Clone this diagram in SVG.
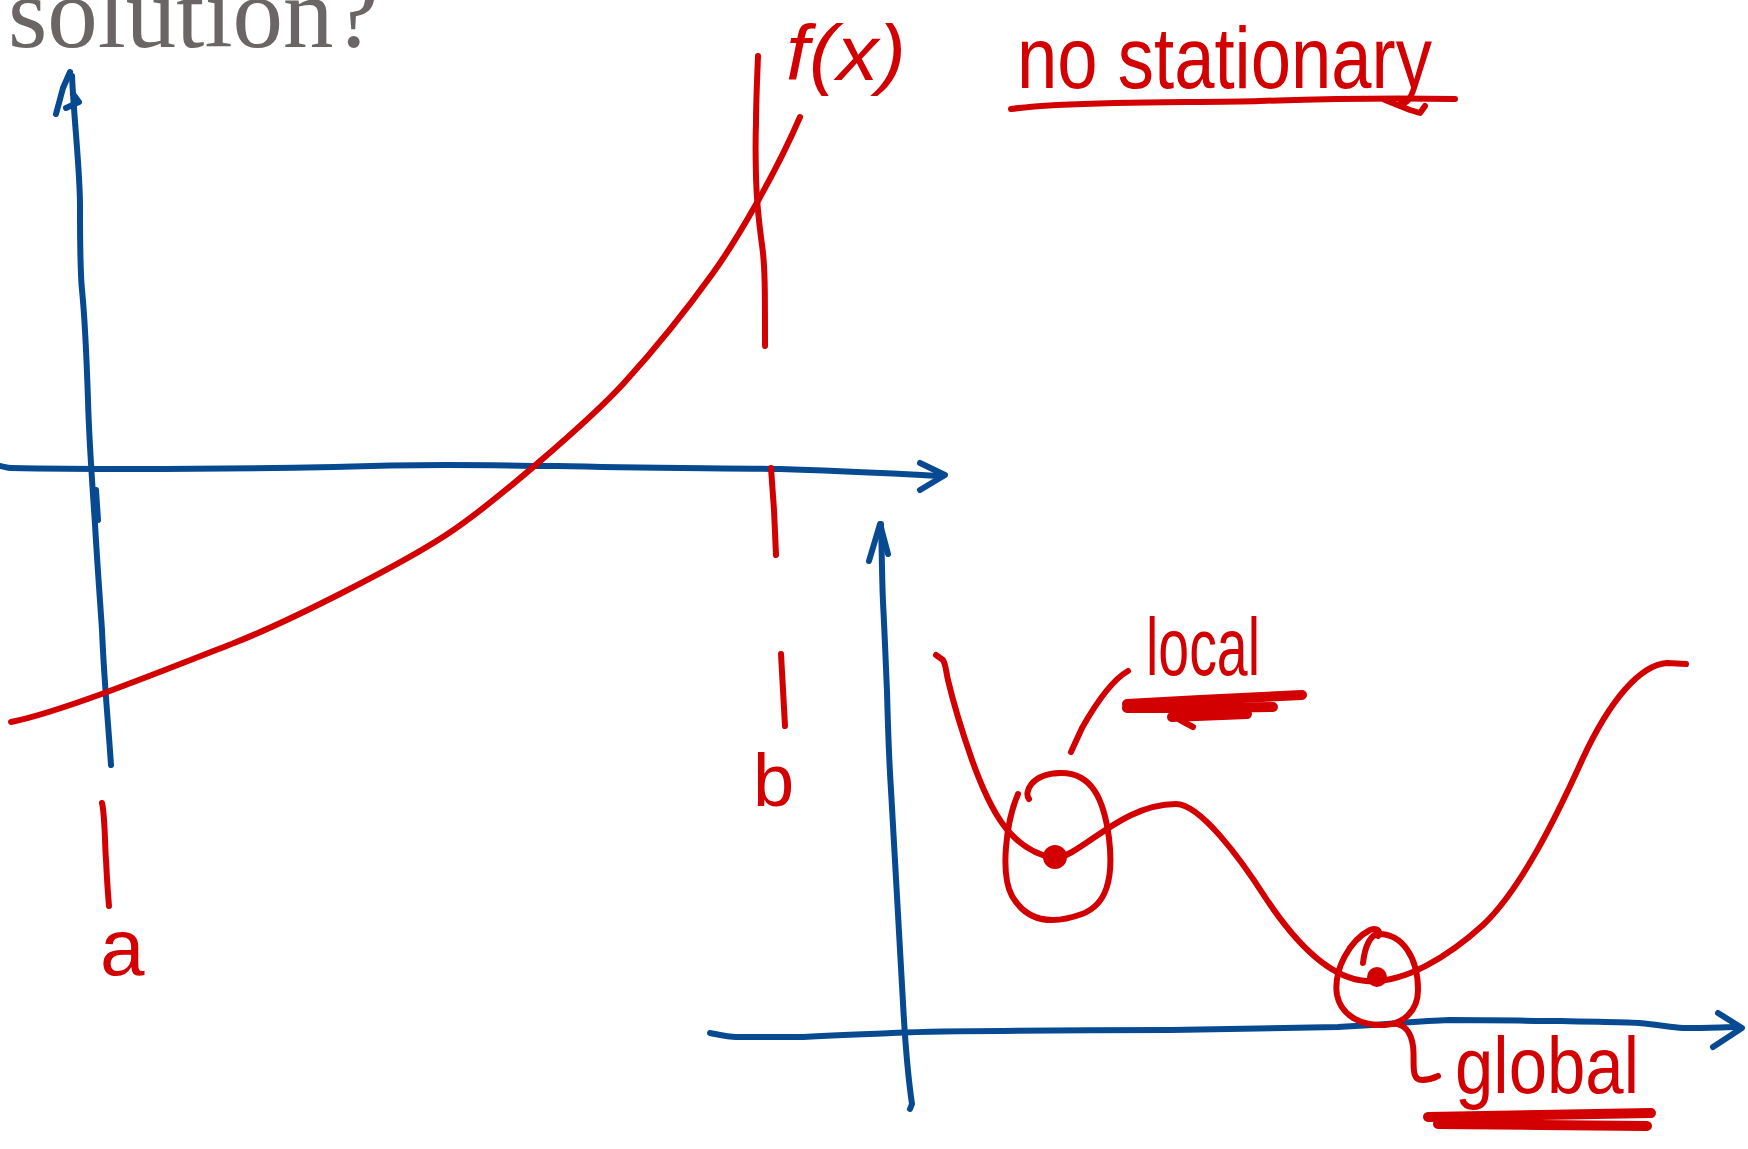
<svg xmlns="http://www.w3.org/2000/svg" width="1748" height="1149" viewBox="0 0 1748 1149">
<style>
.r{fill:none;stroke:#d20000;stroke-width:6;stroke-linecap:round;stroke-linejoin:round}
.b{fill:none;stroke:#074a92;stroke-width:6;stroke-linecap:round;stroke-linejoin:round}
.rt{fill:#d20000;font-family:"Liberation Sans",Arial,sans-serif}
.thick{stroke-width:10}
</style>
<rect width="1748" height="1149" fill="#ffffff"/>
<g id="title">
<text x="8" y="47" font-family="Liberation Serif,Times New Roman,serif" font-size="101" fill="#6b6665">solution?</text>
</g>
<g id="connectors">
<!-- left plot axes -->
<path class="b" d="M72,76 C74,120 80,170 80,206 C80,240 80,270 82,290 C84,310 86,340 88,400 C89,440 92,480 95,524 C97,560 100,600 102,630 C104,680 108,720 111,765"/>
<path class="b" d="M56,114 L63,88 L70,72 M66,108 L79,102 L73,94"/>
<path class="b" d="M96,490 L98,520"/>
<path class="b" d="M0,466 C5,467 8,468 11,468 C60,469 100,469 134,469 C220,469 280,468 334,467 C390,465 420,465 446,465 C500,465 530,466 557,466 C640,468 720,468 780,469 C850,471 900,474 942,476"/>
<path class="b" d="M920,463 L945,475 L920,490"/>
<!-- f(x) curve -->
<path class="r" d="M11,722 C60,712 150,676 234,643 C290,621 400,565 446,535 C492,505 590,420 624,383 C654,350 690,305 713,273 C736,241 775,175 800,117"/>
<path class="r" d="M758,56 C757,80 756,110 756,123 C755,150 756,170 756,178 C757,210 760,230 762,245 C765,265 765,290 765,346"/>
<path class="r" d="M771,468 L774,510 L776,555"/>
<path class="r" d="M781,654 L783,690 L785,726"/>
<path class="r" d="M102,803 C105,815 105,850 106,860 C107,880 108,895 109,906"/>
<!-- no stationary underline -->
<path class="r" d="M1011,109 C1040,105 1070,104 1115,103 C1180,102 1226,102 1260,101 C1320,99 1400,98 1455,99"/>
<path class="r" d="M1385,100 L1410,110 L1420,113 L1425,106"/>
<!-- right plot axes -->
<path class="b" d="M881,524 C882,560 882,580 883,602 C885,640 886,670 887,691 C888,730 889,760 891,790 C894,847 899,925 903,1003 C905,1040 907,1070 912,1104 L910,1109"/>
<path class="b" d="M869,561 L880,524 L888,554"/>
<path class="b" d="M710,1033 C720,1035 728,1037 736,1037 C770,1037 790,1037 803,1037 C840,1035 870,1034 892,1033 C940,1031 980,1031 1003,1031 C1080,1030 1130,1030 1171,1030 C1250,1029 1300,1028 1338,1027 C1390,1024 1420,1021 1449,1020 C1500,1020 1530,1021 1561,1021 C1600,1022 1620,1022 1639,1023 C1660,1025 1670,1027 1683,1028 C1710,1028 1725,1027 1739,1027"/>
<path class="b" d="M1718,1013 L1742,1028 L1713,1047"/>
<!-- wavy curve -->
<path class="r" d="M936,655 L943,660 C946,665 946,672 948,680 C955,710 965,740 972,760 C990,810 1010,850 1054,858 C1080,858 1120,804 1176,804 C1200,804 1240,858 1265,897 C1290,935 1325,978 1366,981 C1405,984 1450,955 1483,925 C1520,890 1555,820 1583,758 C1610,700 1640,665 1667,663 L1686,664"/>
<!-- local circle -->
<path class="r" d="M1029,799 C1024,793 1030,774 1060,773 C1092,772 1104,800 1109,838 C1114,880 1106,905 1082,914 C1052,925 1027,922 1012,896 C1000,874 1006,822 1018,794"/>
<circle cx="1055" cy="857" r="12" fill="#d20000"/>
<!-- local pointer -->
<path class="r" d="M1128,671 C1112,680 1095,705 1082,728 L1071,752"/>
<!-- local underline -->
<path class="r thick" d="M1127,704 L1200,700 L1302,695"/>
<path class="r thick" d="M1127,708 L1200,708 L1273,707"/>
<path class="r thick" d="M1172,717 L1247,714"/>
<path class="r" d="M1180,720 L1193,727"/>
<!-- global circle -->
<path class="r" d="M1363,963 C1365,945 1371,934 1379,934 C1402,934 1418,957 1418,990 C1418,1012 1402,1024 1385,1025 C1360,1026 1341,1015 1337,995 C1333,970 1350,940 1370,930 C1377,927 1381,931 1378,936"/>
<circle cx="1377" cy="977" r="10" fill="#d20000"/>
<path class="r" d="M1390,1024 C1404,1022 1411,1032 1413,1046 C1415,1062 1410,1080 1422,1080 C1430,1080 1434,1078 1438,1076"/>
<!-- global underline -->
<path class="r thick" d="M1428,1117 L1540,1115 L1651,1113"/>
<path class="r thick" d="M1438,1124 L1540,1125 L1647,1126"/>
</g>
<g id="label-fx"><text class="rt" x="786" y="80" font-size="78" textLength="120" lengthAdjust="spacingAndGlyphs" font-style="italic">f(x)</text></g>
<g id="label-nostationary"><text class="rt" x="1017" y="88" font-size="88" textLength="415" lengthAdjust="spacingAndGlyphs">no stationary</text></g>
<g id="label-a"><text class="rt" x="100" y="975" font-size="80">a</text></g>
<g id="label-b"><text class="rt" x="753" y="806" font-size="74">b</text></g>
<g id="label-local"><text class="rt" x="1146" y="675" font-size="82" textLength="114" lengthAdjust="spacingAndGlyphs">local</text></g>
<g id="label-global"><text class="rt" x="1455" y="1093" font-size="80" textLength="184" lengthAdjust="spacingAndGlyphs">global</text></g>
</svg>
